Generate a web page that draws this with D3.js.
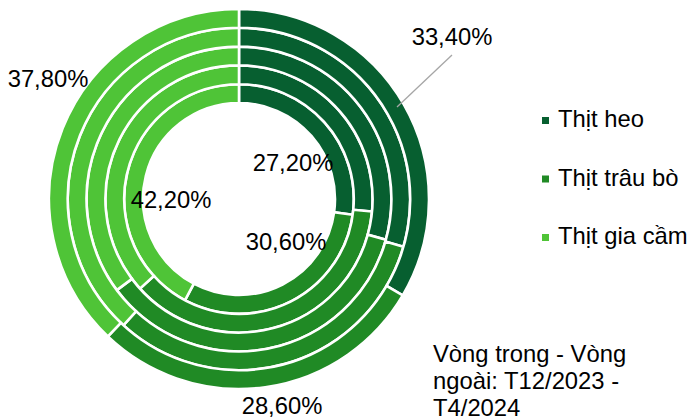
<!DOCTYPE html>
<html lang="vi">
<head>
  <meta charset="UTF-8">
  <title>Cơ cấu tiêu thụ thịt</title>
  <script src="https://d3js.org/d3.v7.min.js"></script>
  <style>
    body { margin: 0; background: #fff; }
    svg { display: block; font-family: "Liberation Sans", Arial, sans-serif; }
  </style>
</head>
<body>
  <svg width="688" height="420"></svg>
  <script>
    // rings, inner -> outer
    const months = ["T12/2023", "T1/2024", "T2/2024", "T3/2024", "T4/2024"];
    const categories = ["Thịt heo", "Thịt trâu bò", "Thịt gia cầm"];
    const heo = [27.2, 26.5, 29.3, 29.5, 33.4];
    const trauBo = [30.6, 36.8, 35.5, 32.3, 28.6];
    const giaCam = [42.2, 36.7, 35.2, 38.2, 37.8];
    const noteLines = ["Vòng trong - Vòng", "ngoài: T12/2023 -", "T4/2024"];

    const colors = ["#075f30", "#208a25", "#4fc437"];

    const svg = d3.select("svg");
    const cx = 239, cy = 199;
    const innerR = 96, outerR = 190;
    const fontSize = 23.8;

    const ring = d3.scaleBand()
      .domain(months)
      .range([innerR, outerR]);

    const pie = d3.pie().sort(null).value(d => d.value);

    const g = svg.append("g").attr("transform", `translate(${cx},${cy})`);

    months.forEach((m, i) => {
      const vals = [heo[i], trauBo[i], giaCam[i]].map((v, k) => ({ value: v, k }));
      const arc = d3.arc()
        .innerRadius(ring(m))
        .outerRadius(ring(m) + ring.bandwidth());
      g.selectAll(null)
        .data(pie(vals))
        .enter()
        .append("path")
        .attr("d", arc)
        .attr("fill", d => colors[d.data.k])
        .attr("stroke", "#fff")
        .attr("stroke-width", 2.6);
    });

    // data labels on the inner and outer ring (hand placed like the original)
    const fmt = v => d3.format(".2f")(v).replace(".", ",") + "%";
    const labels = [
      { v: heo[0], p: [54, -28] },
      { v: trauBo[0], p: [47, 51] },
      { v: giaCam[0], p: [-68, 9] },
      { v: heo[4], p: [213, -154] },
      { v: trauBo[4], p: [43, 215] },
      { v: giaCam[4], p: [-191, -112] }
    ];

    // leader line for the outer pork slice
    g.append("line")
      .attr("x1", 213).attr("y1", -144)
      .attr("x2", 158).attr("y2", -92)
      .attr("stroke", "#a6a6a6")
      .attr("stroke-width", 1.3);

    g.selectAll(".lbl")
      .data(labels)
      .enter()
      .append("text")
      .attr("class", "lbl")
      .attr("x", d => d.p[0])
      .attr("y", d => d.p[1])
      .attr("text-anchor", "middle")
      .attr("font-size", fontSize)
      .attr("fill", "#000")
      .text(d => fmt(d.v));

    // legend
    const legend = svg.append("g").attr("transform", "translate(542,127)");
    legend.selectAll("rect")
      .data(categories)
      .enter()
      .append("rect")
      .attr("x", 0)
      .attr("y", (d, i) => i * 58.5 - 10)
      .attr("width", 7)
      .attr("height", 7)
      .attr("fill", (d, i) => colors[i]);
    legend.selectAll("text")
      .data(categories)
      .enter()
      .append("text")
      .attr("x", 16)
      .attr("y", (d, i) => i * 58.5)
      .attr("font-size", fontSize)
      .attr("fill", "#000")
      .text(d => d);

    // note
    svg.append("text")
      .attr("x", 433)
      .attr("y", 362)
      .attr("font-size", fontSize)
      .selectAll("tspan")
      .data(noteLines)
      .enter()
      .append("tspan")
      .attr("x", 433)
      .attr("dy", (d, i) => i ? 27 : 0)
      .text(d => d);
  </script>
</body>
</html>
